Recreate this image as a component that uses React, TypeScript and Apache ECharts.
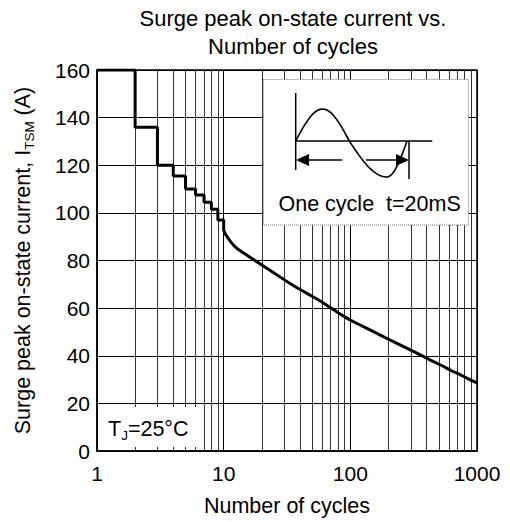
import React, { useEffect, useRef } from "react";
import * as echarts from "echarts";

const FONT = "'Liberation Sans', Arial, sans-serif";

const titleLines = ["Surge peak on-state current vs.", "Number of cycles"];
const xAxisTitle = "Number of cycles";
const yTicks = [0, 20, 40, 60, 80, 100, 120, 140, 160];
const xTickLabels = [1, 10, 100, 1000];
const minorGrid = [2, 3, 4, 5, 6, 7, 8, 9, 20, 30, 40, 50, 60, 70, 80, 90, 200, 300, 400, 500, 600, 700, 800, 900];

// step portion: 1..10 cycles
const stepCycles = [1, 2, 3, 4, 5, 6, 7, 8, 9, 10];
const stepCurrent = [160, 136, 120, 115.5, 110, 107.5, 104.5, 101.5, 97, 92.5];

// smooth portion: 10..1000 cycles
const curveCycles = [10, 10.7, 12.4, 15.6, 24.3, 34.4, 44.7, 56.5, 66, 76, 87, 100, 162, 231, 318, 422, 530, 634, 753, 861, 1000];
const curveCurrent = [92.5, 89.8, 85.6, 81.9, 75.2, 69.9, 66.4, 63.3, 61, 58.9, 56.9, 55, 49.4, 45.3, 41.7, 38.4, 35.8, 33.6, 31.8, 30.2, 28.6];

function sinePoints(): number[][] {
  const pts: number[][] = [];
  const x0 = 295.7, xm = 349.3, x1 = 407, y0 = 141;
  for (let i = 0; i <= 20; i++) {
    const t = i / 20;
    pts.push([x0 + (xm - x0) * t, y0 - 32 * Math.sin(Math.PI * t)]);
  }
  for (let i = 1; i <= 24; i++) {
    const t = i / 24;
    const s = t < 0.65 ? (0.5 * t) / 0.65 : 0.5 + (0.5 * (t - 0.65)) / 0.35;
    pts.push([xm + (x1 - xm) * t, y0 + 36 * Math.sin(Math.PI * s)]);
  }
  return pts;
}

export default function App() {
  const ref = useRef<HTMLDivElement>(null);
  useEffect(() => {
    if (!ref.current) return;
    const chart = echarts.init(ref.current, undefined, { renderer: "svg" });
    const lineStyleThin = { stroke: "#000", lineWidth: 1.5 };
    chart.setOption({
      animation: false,
      backgroundColor: "#fff",
      title: {
        text: titleLines.join("\n"),
        left: 288,
        top: -1,
        textAlign: "center",
        textStyle: { fontFamily: FONT, fontSize: 22, fontWeight: "normal", color: "#000", lineHeight: 28 },
      },
      grid: {
        left: 97,
        right: 33,
        top: 70,
        bottom: 68.5,
        show: true,
        borderColor: "#000",
        borderWidth: 1.5,
        backgroundColor: "transparent",
      },
      xAxis: {
        type: "log",
        logBase: 10,
        min: 1,
        max: 1000,
        name: xAxisTitle,
        nameLocation: "middle",
        nameGap: 44,
        nameTextStyle: { fontFamily: FONT, fontSize: 21.5, color: "#000" },
        axisLine: { show: true, lineStyle: { color: "#000", width: 1.5 } },
        axisTick: { show: false },
        axisLabel: {
          fontFamily: FONT,
          fontSize: 21,
          color: "#000",
          margin: 12,
          formatter: (v: number) => (xTickLabels.includes(Math.round(v)) ? String(Math.round(v)) : ""),
        },
        splitLine: { show: true, lineStyle: { color: "#000", width: 1 } },
      },
      yAxis: {
        type: "value",
        min: yTicks[0],
        max: yTicks[yTicks.length - 1],
        interval: 20,
        name: "{a|Surge peak on-state current, I}{b|TSM}{a| (A)}",
        nameLocation: "middle",
        nameGap: 61,
        nameTextStyle: {
          color: "#000",
          rich: {
            a: { fontFamily: FONT, fontSize: 21.5, color: "#000", lineHeight: 26 },
            b: { fontFamily: FONT, fontSize: 13.5, color: "#000", lineHeight: 26, verticalAlign: "bottom" },
          },
        },
        axisLine: { show: true, lineStyle: { color: "#000", width: 1.5 } },
        axisTick: { show: false },
        axisLabel: { fontFamily: FONT, fontSize: 21, color: "#000", margin: 7 },
        splitLine: { show: true, lineStyle: { color: "#000", width: 1 } },
      },
      series: [
        {
          type: "line",
          step: "end",
          data: stepCycles.map((c, i) => [c, stepCurrent[i]]),
          symbol: "none",
          lineStyle: { color: "#000", width: 3 },
          z: 3,
          markLine: {
            silent: true,
            symbol: "none",
            label: { show: false },
            lineStyle: { color: "#333", width: 1, type: "solid" },
            data: minorGrid.map((v) => ({ xAxis: v })),
            z: 1,
          },
        },
        {
          type: "line",
          smooth: 0.4,
          data: curveCycles.map((c, i) => [c, curveCurrent[i]]),
          symbol: "none",
          lineStyle: { color: "#000", width: 3 },
          z: 3,
        },
      ],
      graphic: [
        // T_J label with white background
        { type: "rect", z: 100, shape: { x: 98.5, y: 407, width: 98, height: 40 }, style: { fill: "#fff" } },
        {
          type: "text",
          z: 101,
          x: 108,
          y: 429,
          style: {
            text: "{a|T}{b|J}{a|=25°C}",
            verticalAlign: "middle",
            rich: {
              a: { fontFamily: FONT, fontSize: 21.5, fill: "#000", lineHeight: 26 },
              b: { fontFamily: FONT, fontSize: 13.5, fill: "#000", lineHeight: 26, verticalAlign: "bottom" },
            },
          },
        },
        // inset box
        {
          type: "rect",
          z: 100,
          shape: { x: 263.5, y: 79.5, width: 205, height: 145.5 },
          style: { fill: "#fff", stroke: "#777", lineWidth: 1, lineDash: [1, 1] },
        },
        { type: "line", z: 101, shape: { x1: 295.7, y1: 93, x2: 295.7, y2: 170 }, style: lineStyleThin },
        { type: "line", z: 101, shape: { x1: 295.7, y1: 141, x2: 432.3, y2: 141 }, style: lineStyleThin },
        { type: "line", z: 101, shape: { x1: 409, y1: 141, x2: 409, y2: 179 }, style: lineStyleThin },
        { type: "polyline", z: 101, shape: { points: sinePoints() }, style: { stroke: "#000", lineWidth: 1.6, fill: "none" } },
        { type: "line", z: 101, shape: { x1: 300, y1: 160, x2: 342.3, y2: 160 }, style: lineStyleThin },
        { type: "line", z: 101, shape: { x1: 366, y1: 160, x2: 405, y2: 160 }, style: lineStyleThin },
        { type: "polygon", z: 101, shape: { points: [[296, 160], [309, 154], [309, 166]] }, style: { fill: "#000" } },
        { type: "polygon", z: 101, shape: { points: [[409, 160], [396, 154], [396, 166]] }, style: { fill: "#000" } },
        {
          type: "text",
          z: 101,
          x: 278.5,
          y: 204,
          style: { text: "One cycle  t=20mS", fontFamily: FONT, fontSize: 21.5, fill: "#000", verticalAlign: "middle" },
        },
      ],
    });
    return () => chart.dispose();
  }, []);
  return (
    <div
      ref={ref}
      style={{ position: "absolute", left: 0, top: 0, width: 510, height: 522, background: "#fff" }}
    />
  );
}
